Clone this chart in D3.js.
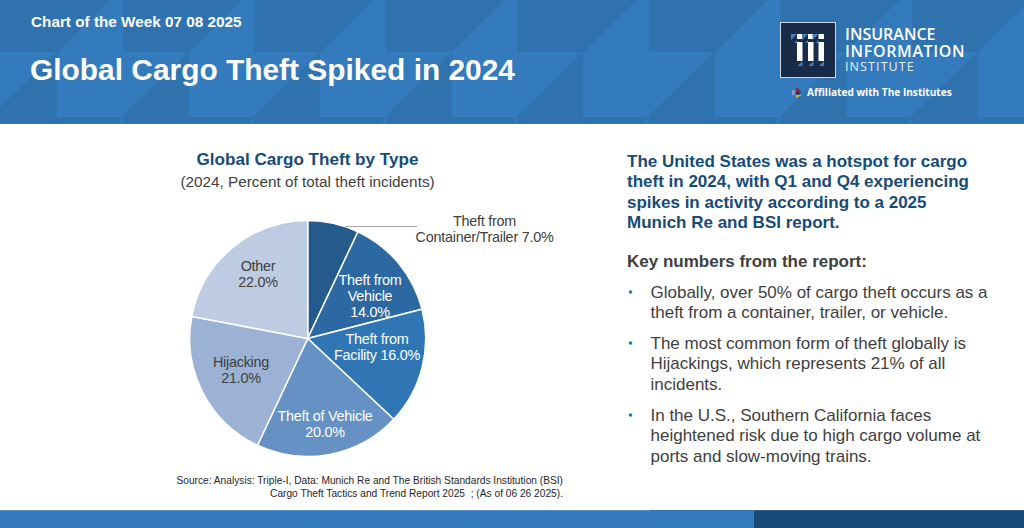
<!DOCTYPE html>
<html>
<head>
<meta charset="utf-8">
<script src="https://cdn.jsdelivr.net/npm/d3@7"></script>
<style>
  html, body { margin: 0; padding: 0; background: #fff; overflow: hidden; }
  text { font-family: "Liberation Sans", Arial, sans-serif; }
</style>
</head>
<body>
<svg id="chart" width="1024" height="528"></svg>
<script>
// chart data
const categories = ["Theft from Container/Trailer", "Theft from Vehicle", "Theft from Facility", "Theft of Vehicle", "Hijacking", "Other"];
const shares = [7, 14, 16, 20, 21, 22];
const sliceColors = ["#255a8c", "#2c69a2", "#3176b4", "#6591c5", "#9bb2d5", "#bdcce2"];
// label lines, one array per slice
const sliceLabels = [
  ["Theft from", "Container/Trailer 7.0%"],
  ["Theft from", "Vehicle", "14.0%"],
  ["Theft from", "Facility 16.0%"],
  ["Theft of Vehicle", "20.0%"],
  ["Hijacking", "21.0%"],
  ["Other", "22.0%"]
];
const labelColors = ["#404040", "#ffffff", "#ffffff", "#ffffff", "#404040", "#404040"];
const labelSpots = [[484.5, 226], [370, 285], [377, 344], [325, 421], [241, 367], [258, 271]];

const bullets = [
  ["Globally, over 50% of cargo theft occurs as a", "theft from a container, trailer, or vehicle."],
  ["The most common form of theft globally is", "Hijackings, which represents 21% of all", "incidents."],
  ["In the U.S., Southern California faces", "heightened risk due to high cargo volume at", "ports and slow-moving trains."]
];
const bulletTops = [292, 343, 415];
const headline = [
  "The United States was a hotspot for cargo",
  "theft in 2024, with Q1 and Q4 experiencing",
  "spikes in activity according to a 2025",
  "Munich Re and BSI report."
];

const svg = d3.select("#chart");

// header band with the tile pattern
svg.append("rect").attr("width", 1024).attr("height", 124).attr("fill", "#337bbd");
const tileStep = 131.5;
const pattern = svg.append("g").attr("fill", "#2f72ae");
pattern.append("rect").attr("y", 117).attr("width", 1024).attr("height", 7);
d3.range(-1, 9).forEach(i => {
  const x = 57 + i * tileStep;
  pattern.append("path").attr("d", `M${x + 66},0H${x + 185}L${x + 132},52H${x + 66}Z`);
  pattern.append("path").attr("d", `M${x},52V117H${x - 67}Z`);
  pattern.append("path").attr("d", `M${x + 66},117V124H${x + 60}Z`).attr("fill", "#337bbd");
});

svg.append("text").attr("x", 31).attr("y", 27).attr("fill", "#fff")
  .style("font-size", "15.3px").style("font-weight", "bold").text("Chart of the Week 07 08 2025");
svg.append("text").attr("x", 30).attr("y", 80).attr("fill", "#fff")
  .style("font-size", "29.9px").style("font-weight", "bold").text("Global Cargo Theft Spiked in 2024");

// logo
const logo = svg.append("g").attr("transform", "translate(780,22)");
logo.append("rect").attr("x", 0.5).attr("y", 0.5).attr("width", 55).attr("height", 55)
  .attr("fill", "#182c47").attr("stroke", "#c9d5e3").attr("stroke-width", 1);
[17, 28, 38.5].forEach(x => {
  logo.append("path").attr("d", `M${x - 6},12h6l-6,6Z`).attr("fill", "#3f7fc1");
  logo.append("path").attr("d", `M${x},18v3h-3Z`).attr("fill", "#3f7fc1");
  logo.append("path").attr("d", `M${x + 5.5},39v5h-5Z`).attr("fill", "#3f7fc1");
  logo.append("rect").attr("x", x).attr("y", 12).attr("width", 5.5).attr("height", 5).attr("fill", "#fff");
  logo.append("rect").attr("x", x).attr("y", 20).attr("width", 5.5).attr("height", 19).attr("fill", "#fff");
});
svg.append("text").attr("x", 845).attr("y", 40).attr("fill", "#fff")
  .style("font-family", "'Open Sans', sans-serif").style("font-size", "16px").style("font-weight", "600").text("INSURANCE");
svg.append("text").attr("x", 845).attr("y", 57).attr("fill", "#fff")
  .style("font-family", "'Open Sans', sans-serif").style("font-size", "16px").style("font-weight", "600").style("letter-spacing", "0.65px").text("INFORMATION");
svg.append("text").attr("x", 845).attr("y", 71).attr("fill", "#e6eef6")
  .style("font-family", "'Open Sans', sans-serif").style("font-size", "12.5px").style("letter-spacing", "1.1px").text("INSTITUTE");
svg.append("rect").attr("x", 792).attr("y", 90).attr("width", 3).attr("height", 5).attr("fill", "#7f9cc9");
svg.append("path").attr("d", "M796,87l6,5l-6,1Z").attr("fill", "#8c2a35");
svg.append("path").attr("d", "M795,93l6,-1l-3,3Z").attr("fill", "#1d2b4a");
svg.append("path").attr("d", "M796,95l6,0l-6,3Z").attr("fill", "#e9ad2b");
svg.append("text").attr("x", 807).attr("y", 96).attr("fill", "#fff")
  .style("font-family", "'Open Sans', sans-serif").style("font-size", "10.1px").style("font-weight", "700").text("Affiliated with The Institutes");

// pie titles
svg.append("text").attr("x", 307.5).attr("y", 165).attr("text-anchor", "middle").attr("fill", "#174b78")
  .style("font-size", "17.1px").style("font-weight", "bold").text("Global Cargo Theft by Type");
svg.append("text").attr("x", 307.5).attr("y", 187).attr("text-anchor", "middle").attr("fill", "#404040")
  .style("font-size", "15.3px").text("(2024, Percent of total theft incidents)");

// pie
const radius = 118;
const pie = d3.pie().sort(null).value(d => d);
const arc = d3.arc().innerRadius(0).outerRadius(radius);
const pieGroup = svg.append("g").attr("transform", "translate(307.7,338.5)");
pieGroup.selectAll("path").data(pie(shares)).enter().append("path")
  .attr("d", arc)
  .attr("fill", (d, i) => sliceColors[i])
  .attr("stroke", "#fff").attr("stroke-width", 1.5);

// leader line for the small slice
svg.append("path").attr("d", "M345,226.5H417").attr("stroke", "#a6a6a6").attr("fill", "none");

sliceLabels.forEach((lines, i) => {
  const t = svg.append("text").attr("text-anchor", "middle").attr("fill", labelColors[i])
    .style("font-size", "14.4px").style("letter-spacing", "-0.25px").attr("aria-label", categories[i]);
  lines.forEach((line, j) => {
    t.append("tspan").attr("x", labelSpots[i][0]).attr("y", labelSpots[i][1] + j * 16).text(line);
  });
});

// source
svg.append("text").attr("x", 563).attr("y", 484).attr("text-anchor", "end").attr("fill", "#262626")
  .style("font-size", "10.2px").text("Source: Analysis: Triple-I, Data: Munich Re and The British Standards Institution (BSI)");
svg.append("text").attr("x", 563).attr("y", 497).attr("text-anchor", "end").attr("fill", "#262626")
  .style("font-size", "10.2px").style("white-space", "pre").text("Cargo Theft Tactics and Trend Report 2025  ; (As of 06 26 2025).");

// right column
headline.forEach((line, i) => {
  svg.append("text").attr("x", 627).attr("y", 167 + i * 20.4).attr("fill", "#174b78")
    .style("font-size", "17px").style("font-weight", "bold").text(line);
});
svg.append("text").attr("x", 627).attr("y", 267).attr("fill", "#404040")
  .style("font-size", "17px").style("font-weight", "bold").text("Key numbers from the report:");
bullets.forEach((lines, i) => {
  svg.append("circle").attr("cx", 630.5).attr("cy", bulletTops[i]).attr("r", 1.8).attr("fill", "#1f77c8");
  lines.forEach((line, j) => {
    svg.append("text").attr("x", 650.5).attr("y", bulletTops[i] + 6 + j * 20.4).attr("fill", "#404040")
      .style("font-size", "17px").text(line);
  });
});

// footer band
svg.append("rect").attr("y", 510).attr("width", 1024).attr("height", 18).attr("fill", "#337bbd");
svg.append("rect").attr("x", 754).attr("y", 510).attr("width", 270).attr("height", 18).attr("fill", "#174b78");
svg.append("rect").attr("y", 510).attr("width", 650).attr("height", 1).attr("fill", "#5b93c9");
svg.append("rect").attr("x", 650).attr("y", 510).attr("width", 104).attr("height", 1).attr("fill", "#2f72ae");
svg.append("rect").attr("x", 754).attr("y", 510).attr("width", 270).attr("height", 1).attr("fill", "#2d5f8e");
</script>
</body>
</html>
